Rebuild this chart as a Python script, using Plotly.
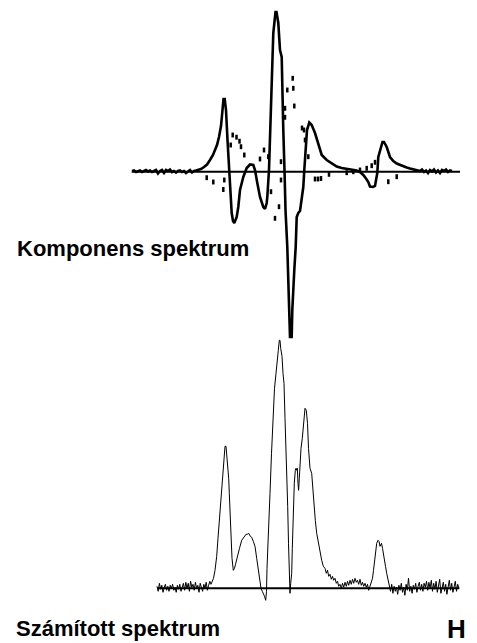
import plotly.graph_objects as go

# ---------------- data ----------------
# Top: component spectrum (derivative-like), field position vs intensity
comp_x = [132, 134, 136, 138, 140, 142, 144, 146, 148, 150, 152, 154, 156, 158, 160, 162, 164, 166,
          168, 170, 172, 174, 176, 178, 180, 182, 184, 186, 188, 190, 192, 194, 196, 198, 201, 204,
          207, 210, 213, 215, 217, 219, 221, 222.5, 223.5, 224.7, 226, 227.5, 229, 230, 231.7, 233,
          234.3, 236.7, 238.3, 240, 243.3, 246.7, 250, 253.3, 255, 257.3, 260, 263.3, 265, 266.7,
          267.3, 269, 270.3, 271.7, 273.3, 275.5, 276.5, 278.3, 280, 281.7, 282.3, 283.3, 284.5,
          285.5, 287.3, 288.3, 289.3, 290, 291.7, 292.3, 294.3, 295.7, 296.7, 298.3, 300, 301.7,
          303.3, 304.3, 305.5, 307, 309.3, 311.7, 315, 318.3, 321.7, 326.7, 331.7, 336.7, 341.7,
          346.7, 351.7, 356.7, 360, 363.3, 366, 368.3, 370, 373, 375, 377.3, 378.3, 380.7, 382.5,
          384, 386.7, 390, 393.3, 396.7, 400, 403.3, 406.7, 410, 413.3, 416.7, 420, 422, 424, 426,
          428, 430, 432, 434, 436, 438, 440, 442, 444, 446, 448, 450, 452]
comp_y = [0.7, 1.2, -0.3, 0.7, 1.2, -0.3, 0.7, 1.7, 0.2, 1.2, -0.3, 0.7, 1.7, -1.8, 0.7, 1.7, -1.3, 1.7,
          0.7, 2.2, -0.3, 0.7, -0.8, 0.7, 1.2, -0.3, 0.7, -1.3, 0.7, 1.7, -0.8, 0.7, 1.2, 1.7, 2.7, 4.7,
          7.2, 11.7, 16.7, 21.7, 26.7, 34.7, 45.7, 61.7, 72.7, 72.7, 61.7, 31.7, 1.7, -18.3, -41.3, -49.3,
          -51.3, -45.3, -35.3, -18.3, -5.3, 3.7, 7.2, 6.7, 1.7, -11.3, -25.3, -35.3, -37.3, -31.3,
          -25.3, 1.7, 41.7, 94.7, 138.7, 159.7, 159.7, 148.7, 121.7, 114.7, 78.7, 41.7, 1.7,
          -38.3, -75.3, -108.3, -138.3, -165.3, -165.3, -138.3, -98.3, -75.3, -45.3, -41.3, -39.3, -28.3,
          -15.3, 1.7, 21.7, 41.7, 49.2, 46.7, 38.7, 26.7, 16.7, 11.7, 8.2, 5.2, 3.7,
          2.7, 1.7, 1.2, -0.3, -3.3, -6.8, -10.3, -14.8, -15.3, -14.3, -1.3, 14.7, 24.7, 29.7,
          29.7, 24.7, 14.7, 10.7, 8.2, 6.7, 5.2, 4.2, 3.2, 2.2, 1.7, 0.7, 2.2, -0.3, 1.2,
          -1.3, 1.7, 0.2, 2.2, -0.8, 1.2, -1.3, 1.7, 0.7, 2.2, -0.3, 1.2, 0.7]

# Top: second component (dotted)
dots_x = [206.7, 213.3, 223.3, 224.3, 230.7, 232.7, 236.5, 239.5, 241, 244.3, 260, 264, 268.3, 271, 275,
          279, 281, 281, 285, 285, 287.3, 292.7, 293.3, 294.3, 302, 304, 305, 308.3, 315, 318, 321, 329,
          346.7, 353.3, 360, 366.7, 371.7, 375, 388.3, 396.7]
dots_y = [-6, -10.3, -17.8, -8.3, 26.7, 36.7, 34.5, 30.5, 25, 16.7, 12.7, 21.7, 15, -20, -46.6,
          -35, -8.3, 10, 54.4, 63.4, 81.7, 93.4, 83.4, 65.7, 43.7, 41.7, 31.7, 15, -7.3, -7.3, -6.8, -2.6,
          -1, 0, 1.7, 3.4, 6, 9.4, -10, -5]

# Bottom: calculated spectrum
calc_x = [157, 158.2, 159.4, 160.6, 161.8, 163, 164.2, 165.4, 166.6, 167.8, 169, 170.2, 171.4, 172.6,
          173.8, 175, 176.2, 177.4, 178.6, 179.8, 181, 182.2, 183.4, 184.6, 185.8, 187, 188.2, 189.4,
          190.6, 191.8, 193, 194.2, 195.4, 196.6, 197.8, 199, 200.2, 201.4, 202.6, 203.8, 205, 206.2,
          207.4, 208.6, 209.8, 211,
          212.5, 213.5, 215, 216.7, 218, 219.5, 221, 222.3, 223.3, 224.3, 225, 226, 226.5, 227.7, 228.7,
          229.3, 230.3, 231, 232, 233.3, 234.5, 235.5, 237.3, 239.5, 241.7, 244, 246, 247.3, 248.7, 250.3,
          251.7, 253.3, 255, 256.7, 258.3, 259.5, 261, 262.3, 263.3, 264.5, 265.7, 266.5, 267, 267.5,
          268.5, 270, 271.5, 273.3, 274.5, 276, 277.3, 278.3, 279.3, 280, 280.7, 282, 283, 284, 285, 286,
          286.8, 287.7, 288.5, 289.3, 289.7, 290, 290.7, 291.7, 292.3, 293.3, 294.3, 295.3, 296, 296.7,
          297.3, 298, 298.6, 299.3, 300, 301, 302.3, 303.7, 305, 306.3, 307.5, 308.5, 310, 311.7, 313,
          314, 315.3, 316.7, 318.3, 320, 321.7, 323.3, 325, 326.3, 327.5, 328.7, 330, 331.3, 332.5, 333.7,
          335, 336.3, 337.5, 338.7, 340, 341.3, 342.5, 343.7, 345, 346.3, 347.5, 348.7, 350, 351.3, 352.5,
          353.7, 355, 356.3, 357.5, 358.7, 360, 361.3, 362.5, 363.7, 365, 366.3, 367.5, 368.7, 370, 371.3,
          372.5, 373.5, 374.5, 375.5, 376.7, 378, 379, 380, 381.5, 382.5, 383.5, 384.5, 385.5, 386.7,
          387.7, 388.7, 389.7, 390.5,
          391.7, 392.9, 394.1, 395.3, 396.5, 397.7, 398.9, 400.1, 401.3, 402.5, 403.7, 404.9, 406.1,
          407.3, 408.5, 409.7, 410.9, 412.1, 413.3, 414.5, 415.7, 416.9, 418.1, 419.3, 420.5, 421.7,
          422.9, 424.1, 425.3, 426.5, 427.7, 428.9, 430.1, 431.3, 432.5, 433.7, 434.9, 436.1, 437.3,
          438.5, 439.7, 440.9, 442.1, 443.3, 444.5, 445.7, 446.9, 448.1, 449.3, 450.5, 451.7, 452.9,
          454.1, 455.3, 456.5, 457.7, 458.9]
calc_y = [2, -3, 5, -1, 3, -4, 1, 4, -2, 2, -3, 3, 0, 4,
          -2, 1, -4, 3, -1, 4, -3, 2, 5, -2, 6, 0, 5, -3,
          7, 1, 4, -2, 6, 0, 3, -4, 5, 1, -3, 4, 0, 6,
          -2, 3, 7, 4,
          8, 10, 18, 32, 50, 70, 85, 100, 115, 130, 142, 142, 135, 128, 110,
          95, 75, 48, 30, 18, 20, 24, 32, 40, 48, 52, 54, 54, 55, 52,
          51, 47, 42, 30, 18, 10, 0, -3, -5, -8, -12, -3, 20, 30,
          50, 95, 135, 178, 200, 215, 225, 238, 248, 248, 240, 232, 215, 205, 170, 142,
          115, 82, 45, 15, -3, -5, 5, 15, 40, 82, 105, 118, 120, 118,
          120, 105, 98, 110, 125, 140, 150, 170, 180, 178, 165, 140, 120, 115, 95,
          82, 68, 55, 45, 35, 28, 22, 20, 15, 18, 12, 14, 9, 12, 8,
          10, 5, 7, 2, 4, 0, 5, 1, 6, 2, 7, 3, 8, 4, 9,
          5, 10, 6, 8, 4, 9, 3, 6, 2, 5, 1, 4, -2, 2, 7,
          10, 18, 28, 35, 45, 48, 47, 42, 45, 40, 35, 30, 22, 15,
          10, 5, 0, -3,
          4, -5, 2, -3, 1, -6, 3, -2, 5, -4, 1, -7, 4,
          -2, 10, -3, 2, -5, 3, -1, 5, -4, 2, 6, -2, 4,
          -3, 5, 1, 7, -2, 6, 0, 8, -3, 5, -1, 7, -4,
          3, 9, -5, 2, 6, -3, 4, -6, 3, 8, -2, 5, -4,
          2, 7, -3, 4, 0]

top_base_x = [131.7, 460]
bottom_base_x = [157, 459.3]

labels = ["Komponens spektrum", "Számított spektrum", "H"]

# ---------------- figure ----------------
fig = go.Figure()
fig.add_trace(go.Scatter(x=top_base_x, y=[0, 0], mode="lines",
                         line=dict(color="black", width=2), yaxis="y", hoverinfo="skip"))
fig.add_trace(go.Scatter(x=comp_x, y=comp_y, mode="lines",
                         line=dict(color="black", width=2.6), yaxis="y"))
fig.add_trace(go.Scatter(x=dots_x, y=dots_y, mode="markers",
                         marker=dict(symbol="line-ns", size=3.5, color="black",
                                     line=dict(color="black", width=2.5)), yaxis="y"))
fig.add_trace(go.Scatter(x=bottom_base_x, y=[0, 0], mode="lines",
                         line=dict(color="black", width=2), yaxis="y2", hoverinfo="skip"))
fig.add_trace(go.Scatter(x=calc_x, y=calc_y, mode="lines",
                         line=dict(color="black", width=1), yaxis="y2"))

font = "Arial, Liberation Sans, sans-serif"
fig.update_layout(
    width=477, height=643,
    margin=dict(l=0, r=0, t=0, b=0),
    paper_bgcolor="white", plot_bgcolor="white",
    showlegend=False,
    xaxis=dict(range=[0, 477], visible=False, fixedrange=True),
    yaxis=dict(range=[-471.3, 171.7], visible=False, fixedrange=True),
    yaxis2=dict(range=[-54.7, 588.3], visible=False, overlaying="y", fixedrange=True),
    annotations=[
        dict(text="<b>%s</b>" % labels[0], x=15 / 477, y=1 - 248.8 / 643, xref="paper", yref="paper",
             xanchor="left", yanchor="middle", showarrow=False,
             font=dict(family=font, size=22, color="black")),
        dict(text="<b>%s</b>" % labels[1], x=13.5 / 477, y=1 - 628.8 / 643, xref="paper", yref="paper",
             xanchor="left", yanchor="middle", showarrow=False,
             font=dict(family=font, size=22, color="black")),
        dict(text="<b>%s</b>" % labels[2], x=445 / 477, y=1 - 628.7 / 643, xref="paper", yref="paper",
             xanchor="left", yanchor="middle", showarrow=False,
             font=dict(family=font, size=26, color="black")),
    ],
)

fig.write_html("out.html", config={"displayModeBar": False},
               post_script="document.body.style.margin='0';document.body.style.overflow='hidden';")
